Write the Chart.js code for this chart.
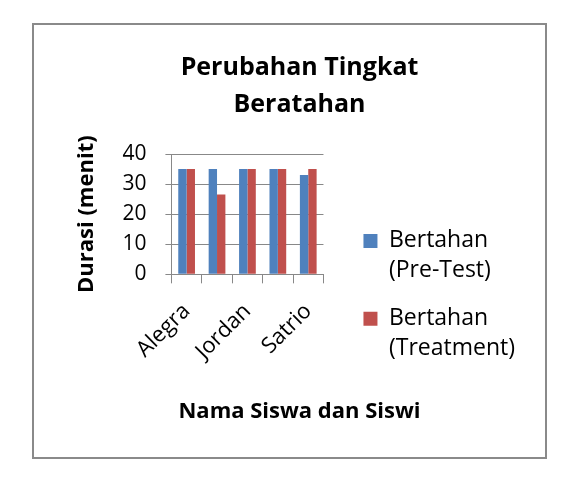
<!DOCTYPE html>
<html>
<head>
<meta charset="utf-8">
<title>Perubahan Tingkat Beratahan</title>
<script src="https://cdn.jsdelivr.net/npm/chart.js@4.4.1/dist/chart.umd.min.js"></script>
<style>
  body { margin: 0; background: #fff; }
  #frame {
    position: absolute; left: 32px; top: 23px;
    width: 515px; height: 436px;
    border: 2px solid #8a8a8a; box-sizing: border-box;
  }
  #frame .wrap { position: relative; width: 511px; height: 432px; }
</style>
</head>
<body>
<div id="frame"><div class="wrap"><canvas id="chart"></canvas></div></div>
<script>
// names 2 and 4 are not printed on the axis in the original
const students = ['Alegra', '', 'Jordan', '', 'Satrio'];
const preTest = [35, 35, 35, 35, 33];
const treatment = [35, 26.5, 35, 35, 35];
const seriesNames = [['Bertahan', '(Pre-Test)'], ['Bertahan', '(Treatment)']];
const yTicks = [0, 10, 20, 30, 40];

Chart.defaults.font.family = '"Open Sans", sans-serif';
Chart.defaults.color = '#000';

const ctx = document.getElementById('chart').getContext('2d');
new Chart(ctx, {
    type: 'bar',
    data: {
        labels: students,
        datasets: [
            {
                label: seriesNames[0],
                data: preTest,
                backgroundColor: '#4F81BD',
                categoryPercentage: 0.55,
                barPercentage: 1
            },
            {
                label: seriesNames[1],
                data: treatment,
                backgroundColor: '#C0504D',
                categoryPercentage: 0.55,
                barPercentage: 1
            }
        ]
    },
    options: {
        responsive: true,
        maintainAspectRatio: false,
        animation: false,
        layout: { padding: { left: 40, right: 20, top: 0, bottom: 0 } },
        plugins: {
            title: {
                display: true,
                text: ['Perubahan Tingkat', 'Beratahan'],
                font: { size: 25, weight: 'bold', lineHeight: 1.48 },
                padding: { top: 24, bottom: 31 }
            },
            subtitle: {
                display: true,
                position: 'bottom',
                text: 'Nama Siswa dan Siswi',
                font: { size: 22, weight: 'bold', lineHeight: 1.2 },
                padding: { top: 19, bottom: 32 }
            },
            legend: {
                position: 'right',
                maxWidth: 260,
                title: { display: true, text: '', padding: { top: 100, bottom: 0 } },
                labels: {
                    boxWidth: 14,
                    boxHeight: 14,
                    padding: 18,
                    font: { size: 23, lineHeight: 1.3 },
                    color: '#000'
                }
            },
            tooltip: { enabled: false }
        },
        scales: {
            x: {
                grid: { drawOnChartArea: false, color: '#888', tickLength: 9 },
                border: { color: '#888' },
                ticks: {
                    autoSkip: false,
                    minRotation: 45,
                    maxRotation: 45,
                    padding: 15,
                    font: { size: 22 },
                    color: '#000'
                }
            },
            y: {
                min: 0,
                max: 40,
                afterBuildTicks: function(scale) {
                    scale.ticks = yTicks.map(v => ({ value: v }));
                },
                grid: { color: '#888', tickLength: 6 },
                border: { color: '#888' },
                ticks: { autoSkip: false, font: { size: 21 }, color: '#000', padding: 19 },
                title: {
                    display: true,
                    text: 'Durasi (menit)',
                    font: { size: 22, weight: 'bold' },
                    padding: { top: 0, bottom: 3 }
                }
            },
            // empty space between the plot and the legend
            gap: {
                type: 'linear',
                position: 'right',
                display: false,
                afterFit: function(scale) { scale.width = 22; }
            }
        }
    }
});
</script>
</body>
</html>
